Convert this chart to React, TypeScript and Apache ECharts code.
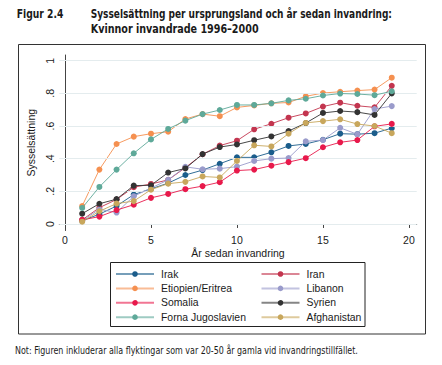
import React, { useEffect, useRef } from "react";
import * as echarts from "echarts";

const years = [1, 2, 3, 4, 5, 6, 7, 8, 9, 10, 11, 12, 13, 14, 15, 16, 17, 18, 19];
const xTicks = [0, 5, 10, 15, 20];
const yTicks = [0, 0.2, 0.4, 0.6, 0.8, 1];

const irak = [0.02, 0.06, 0.11, 0.18, 0.215, 0.25, 0.3, 0.33, 0.369, 0.408, 0.408, 0.439, 0.478, 0.49, 0.516, 0.553, 0.55, 0.556, 0.587];
const iran = [0.025, 0.1, 0.15, 0.225, 0.245, 0.27, 0.345, 0.427, 0.48, 0.51, 0.58, 0.614, 0.651, 0.677, 0.719, 0.743, 0.724, 0.714, 0.846];
const etiopien = [0.11, 0.333, 0.49, 0.535, 0.553, 0.565, 0.643, 0.673, 0.66, 0.714, 0.726, 0.739, 0.744, 0.782, 0.802, 0.81, 0.817, 0.823, 0.896];
const libanon = [0.02, 0.09, 0.07, 0.17, 0.22, 0.27, 0.35, 0.335, 0.339, 0.351, 0.386, 0.4, 0.404, 0.506, 0.514, 0.589, 0.549, 0.704, 0.722];
const somalia = [0.025, 0.045, 0.085, 0.118, 0.16, 0.184, 0.213, 0.232, 0.256, 0.327, 0.333, 0.357, 0.379, 0.403, 0.47, 0.5, 0.514, 0.598, 0.613];
const syrien = [0.063, 0.124, 0.152, 0.235, 0.237, 0.315, 0.34, 0.428, 0.471, 0.487, 0.513, 0.536, 0.569, 0.618, 0.68, 0.692, 0.685, 0.668, 0.8];
const jugoslavien = [0.098, 0.227, 0.333, 0.433, 0.518, 0.582, 0.633, 0.673, 0.698, 0.729, 0.729, 0.739, 0.757, 0.767, 0.787, 0.799, 0.796, 0.789, 0.813];
const afghanistan = [0.014, 0.078, 0.125, 0.14, 0.21, 0.247, 0.258, 0.291, 0.285, 0.386, 0.482, 0.475, 0.553, 0.619, 0.63, 0.641, 0.612, 0.6, 0.556];

const seriesList = [
  { name: "Irak", data: irak, color: "#1b5d8b" },
  { name: "Iran", data: iran, color: "#c3354f" },
  { name: "Etiopien/Eritrea", data: etiopien, color: "#f59050" },
  { name: "Libanon", data: libanon, color: "#9a9bcb" },
  { name: "Somalia", data: somalia, color: "#e8194b" },
  { name: "Syrien", data: syrien, color: "#333333" },
  { name: "Forna Jugoslavien", data: jugoslavien, color: "#5ea999" },
  { name: "Afghanistan", data: afghanistan, color: "#c8a75c" },
];

const legendLeft = ["Irak", "Etiopien/Eritrea", "Somalia", "Forna Jugoslavien"];
const legendRight = ["Iran", "Libanon", "Syrien", "Afghanistan"];

const figLabel = "Figur 2.4";
const titleLine1 = "Sysselsättning per ursprungsland och år sedan invandring:";
const titleLine2 = "Kvinnor invandrade 1996–2000";
const noteText = "Not: Figuren inkluderar alla flyktingar som var 20-50 år gamla vid invandringstillfället.";
const xName = "År sedan invandring";
const yName = "Sysselsättning";

const NARROW = "'Liberation Sans Narrow', 'DejaVu Sans Condensed', 'Liberation Sans', Arial, sans-serif";
const SANS = "'Liberation Sans', Arial, Helvetica, sans-serif";

function measure(text: string, font: string): number {
  const c = document.createElement("canvas").getContext("2d");
  if (!c) return 1;
  c.font = font;
  return c.measureText(text).width || 1;
}

function fitText(text: string, x: number, y: number, size: number, weight: string, target: number) {
  const w = measure(text, `${weight} ${size}px ${NARROW}`);
  return {
    type: "text",
    x,
    y,
    scaleX: target / w,
    silent: true,
    style: {
      text,
      fontSize: size,
      fontWeight: weight,
      fontFamily: NARROW,
      fill: "#1a1a1a",
      verticalAlign: "middle",
      align: "left",
    },
  };
}

export default function App() {
  const ref = useRef<HTMLDivElement>(null);
  useEffect(() => {
    if (!ref.current) return;
    const chart = echarts.init(ref.current, undefined, { renderer: "svg" });
    const fmt = (v: number) => {
      if (Math.abs(v) < 1e-9) return "0";
      if (Math.abs(v - 1) < 1e-9) return "1";
      return String(Math.round(v * 10) / 10).replace("0.", ".");
    };
    const legendCommon = {
      orient: "vertical",
      top: 268,
      itemWidth: 38,
      itemHeight: 7,
      itemGap: 2.4,
      padding: 0,
      selectedMode: false,
      lineStyle: { width: 2, opacity: 0.6 },
      textStyle: { fontSize: 10.4, color: "#1a1a1a", fontFamily: SANS, lineHeight: 12, padding: [0, 0, 0, 2] },
    };
    const option: any = {
      animation: false,
      backgroundColor: "#ffffff",
      grid: { left: 59.3, right: 25.3, top: 55, bottom: 134.5, containLabel: false },
      xAxis: {
        type: "value",
        min: -0.33,
        max: 20.45,
        name: xName,
        nameLocation: "middle",
        nameGap: 17,
        nameTextStyle: { fontSize: 10.5, color: "#1a1a1a", fontFamily: SANS },
        axisLine: { show: true, lineStyle: { color: "#444", width: 1 } },
        axisTick: { show: true, length: 4, lineStyle: { color: "#444" }, customValues: xTicks },
        axisLabel: { show: true, fontSize: 10.5, color: "#1a1a1a", fontFamily: SANS, margin: 4, customValues: xTicks },
        splitLine: { show: false },
      },
      yAxis: {
        type: "value",
        min: -0.04,
        max: 1.035,
        name: yName,
        nameLocation: "middle",
        nameGap: 19,
        nameRotate: 90,
        nameTextStyle: { fontSize: 10.5, color: "#1a1a1a", fontFamily: SANS },
        axisLine: { show: true, lineStyle: { color: "#444", width: 1 } },
        axisTick: { show: true, length: 4, lineStyle: { color: "#444" }, customValues: yTicks },
        axisLabel: { show: true, rotate: 90, fontSize: 10.5, color: "#1a1a1a", fontFamily: SANS, margin: 4, customValues: yTicks, formatter: fmt },
        splitLine: { show: false },
      },
      legend: [
        { ...legendCommon, left: 115, data: legendLeft },
        { ...legendCommon, left: 260.5, data: legendRight },
      ],
      graphic: [
        {
          type: "rect",
          shape: { x: 18.5, y: 44.5, width: 407, height: 289.5 },
          silent: true,
          style: { fill: "none", stroke: "#333", lineWidth: 1 },
        },
        {
          type: "rect",
          shape: { x: 110.5, y: 262.5, width: 254.5, height: 64 },
          silent: true,
          style: { fill: "none", stroke: "#222", lineWidth: 1 },
        },
        fitText(figLabel, 16.7, 14.2, 11.5, "bold", 46.6),
        fitText(titleLine1, 90.7, 14.2, 11.5, "bold", 302),
        fitText(titleLine2, 90.7, 29.2, 11.5, "bold", 168),
        fitText(noteText, 15, 350, 10.5, "normal", 343),
      ],
      series: [
        {
          type: "line",
          name: "__grid",
          data: [],
          silent: true,
          z: 1,
          markLine: {
            silent: true,
            symbol: ["none", "none"],
            label: { show: false },
            lineStyle: { color: "#e4ecee", width: 1, type: "solid" },
            data: yTicks.map((v) => ({ yAxis: v })),
          },
        },
        ...seriesList.map((s, i) => ({
          type: "line",
          name: s.name,
          data: years.map((yr, j) => [yr, s.data[j]]),
          symbol: "circle",
          symbolSize: 6,
          z: 2 + i,
          color: s.color,
          itemStyle: { color: s.color },
          lineStyle: { color: s.color, width: 1, opacity: 0.9 },
          emphasis: { disabled: true },
        })),
      ],
    };
    chart.setOption(option);
    return () => chart.dispose();
  }, []);
  return <div ref={ref} style={{ position: "fixed", left: 0, top: 0, width: 442, height: 365 }} />;
}
